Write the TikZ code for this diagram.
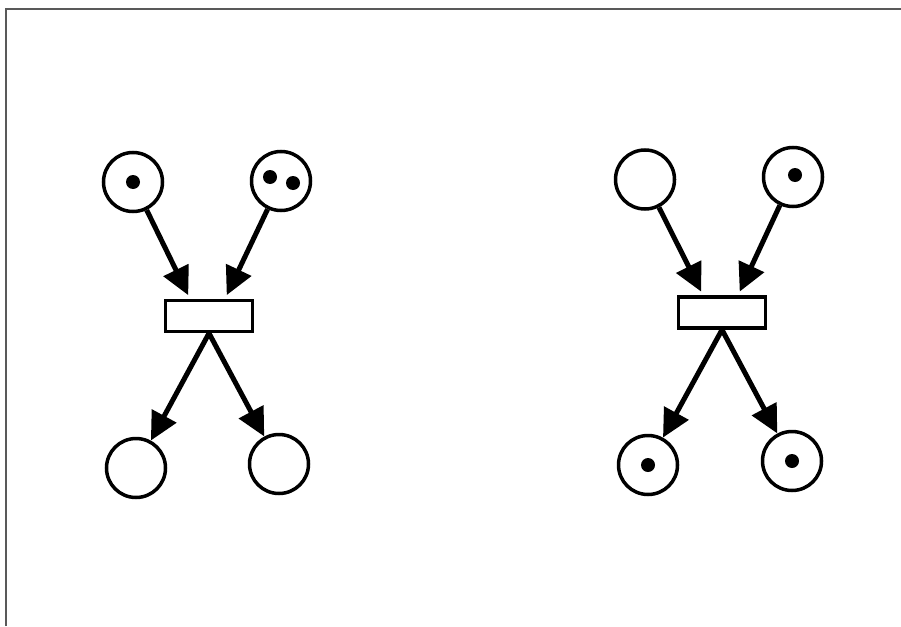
\documentclass[tikz,border=0pt]{standalone}
\usetikzlibrary{arrows.meta}
\begin{document}
\begin{tikzpicture}[x=1pt,y=-1pt,
    place/.style={circle,draw,line width=3.5pt,minimum size=59pt,inner sep=0pt},
    trans/.style={rectangle,draw,line width=3.5pt,minimum width=87pt,minimum height=31pt,inner sep=0pt},
    arc/.style={line width=5pt,-{Triangle[length=28pt,width=27pt]}}]
    \useasboundingbox (0,0) rectangle (901,626);
    \draw[gray!70!black,line width=2pt] (6,626) -- (6,9.3) -- (901,9.3);
    % before firing
    \node[place] (a1) at (133,182) {};
    \node[place] (a2) at (281,181) {};
    \node[trans] (ta) at (209,316) {};
    \node[place] (a3) at (136,468) {};
    \node[place] (a4) at (279,464) {};
    % after firing
    \node[place] (b1) at (645,179.5) {};
    \node[place] (b2) at (793,177) {};
    \node[trans] (tb) at (722,312.5) {};
    \node[place] (b3) at (648,465) {};
    \node[place] (b4) at (792,461) {};
    \foreach \t in {a,b}
    {
      \draw[arc,shorten >=4pt] (\t1) -- ([xshift=-19pt]t\t.north);
      \draw[arc,shorten >=4pt] (\t2) -- ([xshift=16pt]t\t.north);
      \draw[arc] (t\t.south) -- (\t3);
      \draw[arc] (t\t.south) -- (\t4);
    }
    % tokens
    \fill (a1) circle (7);
    \fill ([shift={(-11,-4)}]a2.center) circle (7);
    \fill ([shift={(12,2)}]a2.center) circle (7);
    \fill ([shift={(2,-2)}]b2.center) circle (7);
    \fill (b3) circle (7);
    \fill (b4) circle (7);
  \end{tikzpicture}
\end{document}
